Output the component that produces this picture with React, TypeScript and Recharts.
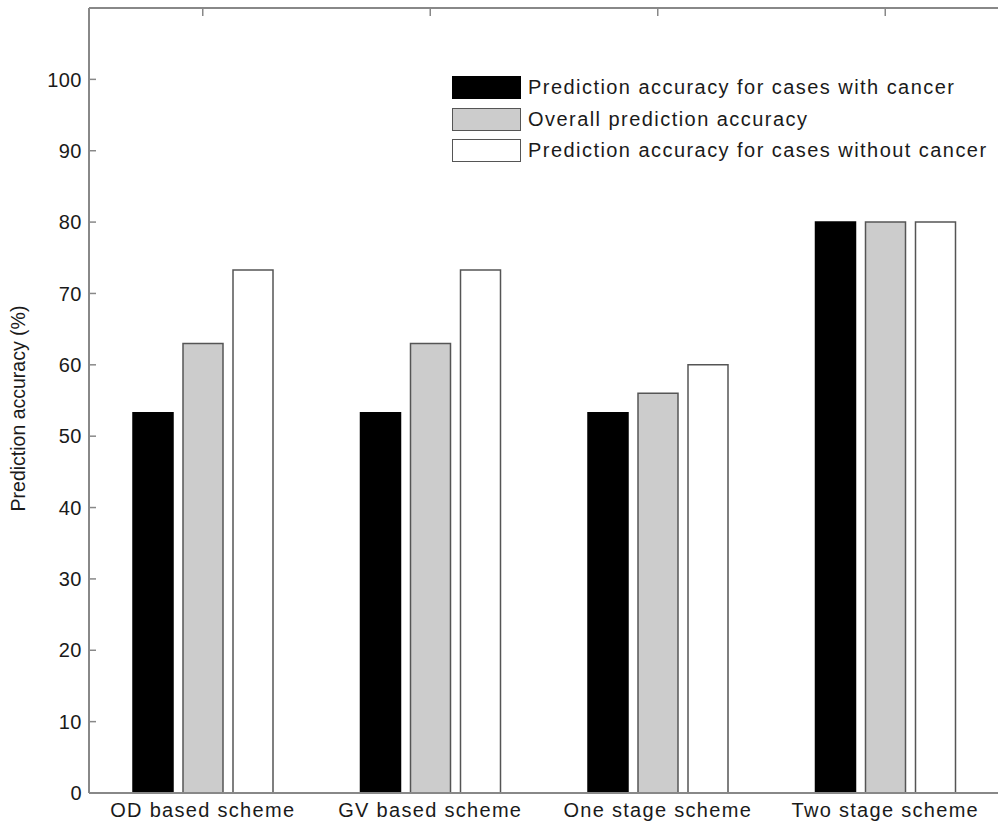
import React from "react";
import { BarChart, Bar, XAxis, YAxis, Legend } from "recharts";

const categories = ["OD based scheme", "GV based scheme", "One stage scheme", "Two stage scheme"];
const withCancer = [53.3, 53.3, 53.3, 80];
const overall = [63, 63, 56, 80];
const withoutCancer = [73.3, 73.3, 60, 80];
const yTicks = [0, 10, 20, 30, 40, 50, 60, 70, 80, 90, 100];

const seriesInfo = [
  { key: "withCancer", name: "Prediction accuracy for cases with cancer", fill: "#000000", stroke: "#000000" },
  { key: "overall", name: "Overall prediction accuracy", fill: "#cccccc", stroke: "#555555" },
  { key: "withoutCancer", name: "Prediction accuracy for cases without cancer", fill: "#ffffff", stroke: "#555555" },
];

const data = categories.map((c, i) => ({
  name: c,
  withCancer: withCancer[i],
  overall: overall[i],
  withoutCancer: withoutCancer[i],
}));

const FONT = "'Liberation Sans', Arial, Helvetica, sans-serif";
const AXIS = "#888888";
const TEXT = "#1a1a1a";

const LeftTick = (props: any) => {
  const { x, y, payload } = props;
  return (
    <g>
      <line x1={x} x2={x + 7} y1={y} y2={y} stroke={AXIS} strokeWidth={1.5} />
      <text x={x - 7} y={y} dy="0.36em" textAnchor="end" fontSize={20} fill={TEXT} fontFamily={FONT} letterSpacing={0.5}>
        {payload.value}
      </text>
    </g>
  );
};

const RightTick = (props: any) => {
  const { x, y } = props;
  return <line x1={x} x2={x - 8} y1={y} y2={y} stroke={AXIS} strokeWidth={1.5} />;
};

const TopTick = (props: any) => {
  const { x, y } = props;
  return <line x1={x} x2={x} y1={y} y2={y + 8} stroke={AXIS} strokeWidth={1.5} />;
};

const BottomTick = (props: any) => {
  const { x, y, payload } = props;
  return (
    <text x={x} y={y} dy="0.72em" textAnchor="middle" fontSize={20} fill={TEXT} fontFamily={FONT} letterSpacing={1.3}>
      {payload.value}
    </text>
  );
};

const YLabel = (props: any) => {
  const vb = props.viewBox || {};
  const cx = 18;
  const cy = (vb.y ?? 0) + (vb.height ?? 0) / 2 + 8;
  return (
    <text
      x={cx}
      y={cy}
      transform={`rotate(-90 ${cx} ${cy})`}
      textAnchor="middle"
      dominantBaseline="central"
      fontSize={19.5}
      fill={TEXT}
      fontFamily={FONT}
    >
      Prediction accuracy (%)
    </text>
  );
};

const LegendContent = () => (
  <div style={{ fontFamily: FONT }}>
    {seriesInfo.map((s) => (
      <div key={s.key} style={{ display: "flex", alignItems: "center", height: 31.5 }}>
        <div
          style={{
            width: 67,
            height: 21,
            background: s.fill,
            border: `1.5px solid ${s.stroke}`,
            boxSizing: "content-box",
          }}
        />
        <span style={{ marginLeft: 7, fontSize: 20, letterSpacing: 1.45, color: TEXT, whiteSpace: "nowrap" }}>{s.name}</span>
      </div>
    ))}
  </div>
);

export default function App() {
  return (
    <div style={{ position: "absolute", left: 0, top: 0, width: 998, height: 831, overflow: "hidden", background: "#fff" }}>
      <BarChart
        width={1002}
        height={831}
        data={data}
        margin={{ top: 7, right: 0, left: 0, bottom: 0 }}
        barSize={40}
        barGap={10}
      >
        <XAxis
          dataKey="name"
          xAxisId="b"
          orientation="bottom"
          height={38}
          axisLine={{ stroke: AXIS, strokeWidth: 2 }}
          tickLine={false}
          tickSize={0}
          tickMargin={10}
          tick={<BottomTick />}
          interval={0}
        />
        <XAxis
          dataKey="name"
          xAxisId="t"
          orientation="top"
          height={1}
          axisLine={{ stroke: AXIS, strokeWidth: 2 }}
          tickLine={false}
          tickSize={0}
          tickMargin={0}
          tick={<TopTick />}
          interval={0}
        />
        <YAxis
          yAxisId="l"
          orientation="left"
          width={89}
          domain={[0, 110]}
          ticks={yTicks}
          type="number"
          allowDataOverflow
          axisLine={{ stroke: AXIS, strokeWidth: 2 }}
          tickLine={false}
          tickSize={0}
          tickMargin={0}
          tick={<LeftTick />}
          interval={0}
          label={<YLabel />}
        />
        <YAxis
          yAxisId="r"
          orientation="right"
          width={3}
          domain={[0, 110]}
          ticks={yTicks}
          type="number"
          axisLine={false}
          tickLine={false}
          tickSize={0}
          tickMargin={0}
          tick={<RightTick />}
          interval={0}
        />
        <Legend
          layout="vertical"
          align="center"
          verticalAlign="middle"
          content={<LegendContent />}
          wrapperStyle={{ left: 452, top: 72, width: 600, height: 100 }}
        />
        {seriesInfo.map((s) => (
          <Bar
            key={s.key}
            dataKey={s.key}
            name={s.name}
            xAxisId="b"
            yAxisId="l"
            fill={s.fill}
            stroke={s.stroke}
            strokeWidth={1.5}
            isAnimationActive={false}
          />
        ))}
      </BarChart>
    </div>
  );
}
